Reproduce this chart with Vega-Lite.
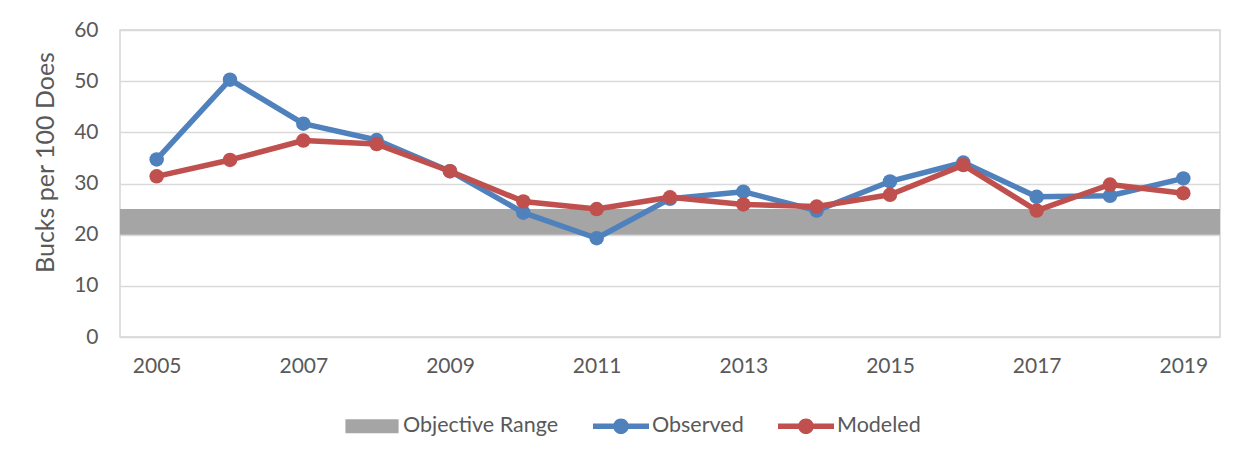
{
  "$schema": "https://vega.github.io/schema/vega-lite/v6.json",
  "width": 1100,
  "height": 307,
  "autosize": "none",
  "padding": {"left": 120, "top": 30, "right": 29, "bottom": 124},
  "background": "white",
  "config": {
    "font": "Lato",
    "view": {"stroke": "#D4D4D4", "strokeWidth": 1.5},
    "axis": {
      "labelColor": "#595959",
      "titleColor": "#595959",
      "labelFontSize": 21,
      "labelFont": "Lato",
      "titleFont": "Lato",
      "domain": false,
      "ticks": false,
      "labelFontWeight": "normal",
      "titleFontWeight": "normal"
    }
  },
  "layer": [
    {
      "data": {"values": [{"series": "Objective Range", "low": 20, "high": 25}]},
      "mark": {"type": "rect"},
      "encoding": {
        "y": {
          "field": "low",
          "type": "quantitative",
          "scale": {"domain": [0, 60], "nice": false},
          "axis": {
            "values": [0, 10, 20, 30, 40, 50, 60],
            "grid": true,
            "gridColor": "#D9D9D9",
            "gridWidth": 1.5,
            "labelPadding": 22,
            "title": "Bucks per 100 Does",
            "titleFontSize": 25,
            "titleAngle": -90,
            "titleBaseline": "middle",
            "titleAlign": "center",
            "titleX": -75,
            "titleY": 132
          }
        },
        "y2": {"field": "high"},
        "color": {
          "field": "series",
          "type": "nominal",
          "scale": {
            "domain": ["Objective Range", "Observed", "Modeled"],
            "range": ["#A5A5A5", "#4F81BD", "#C0504D"]
          },
          "legend": {
            "title": null,
            "orient": "none",
            "direction": "horizontal",
            "legendX": 224,
            "legendY": 368,
            "columnPadding": 34,
            "labelOffset": 3,
            "labelFontSize": 21.5,
            "labelColor": "#595959",
            "labelFont": "Lato",
            "symbolSize": 3136,
            "encode": {
              "symbols": {
                "update": {
                  "shape": {"signal": "datum.value === 'Objective Range' ? 'M-0.95,-0.25H0.95V0.25H-0.95Z' : 'M-1,-0.1H1V0.1H-1Z M0.28,0A0.28,0.28 0 1,1 -0.28,0A0.28,0.28 0 1,1 0.28,0Z'"},
                  "fill": {"scale": "color", "field": "value"},
                  "stroke": {"value": "transparent"},
                  "strokeWidth": {"value": 0},
                  "size": {"value": 3136},
                  "opacity": {"value": 1},
                  "fillOpacity": {"value": 1}
                }
              }
            }
          }
        }
      }
    },
    {
      "data": {
        "values": [
          {"year": 2005, "series": "Observed", "value": 34.7},
          {"year": 2006, "series": "Observed", "value": 50.3},
          {"year": 2007, "series": "Observed", "value": 41.7},
          {"year": 2008, "series": "Observed", "value": 38.5},
          {"year": 2009, "series": "Observed", "value": 32.4},
          {"year": 2010, "series": "Observed", "value": 24.3},
          {"year": 2011, "series": "Observed", "value": 19.3},
          {"year": 2012, "series": "Observed", "value": 27.0},
          {"year": 2013, "series": "Observed", "value": 28.4},
          {"year": 2014, "series": "Observed", "value": 24.7},
          {"year": 2015, "series": "Observed", "value": 30.4},
          {"year": 2016, "series": "Observed", "value": 34.1},
          {"year": 2017, "series": "Observed", "value": 27.4},
          {"year": 2018, "series": "Observed", "value": 27.6},
          {"year": 2019, "series": "Observed", "value": 31.0},
          {"year": 2005, "series": "Modeled", "value": 31.4},
          {"year": 2006, "series": "Modeled", "value": 34.6},
          {"year": 2007, "series": "Modeled", "value": 38.4},
          {"year": 2008, "series": "Modeled", "value": 37.7},
          {"year": 2009, "series": "Modeled", "value": 32.4},
          {"year": 2010, "series": "Modeled", "value": 26.5},
          {"year": 2011, "series": "Modeled", "value": 25.0},
          {"year": 2012, "series": "Modeled", "value": 27.3},
          {"year": 2013, "series": "Modeled", "value": 25.9},
          {"year": 2014, "series": "Modeled", "value": 25.5},
          {"year": 2015, "series": "Modeled", "value": 27.8},
          {"year": 2016, "series": "Modeled", "value": 33.6},
          {"year": 2017, "series": "Modeled", "value": 24.7},
          {"year": 2018, "series": "Modeled", "value": 29.8},
          {"year": 2019, "series": "Modeled", "value": 28.1}
        ]
      },
      "mark": {
        "type": "line",
        "strokeWidth": 5.5,
        "strokeJoin": "round",
        "strokeCap": "round",
        "point": {"filled": true, "size": 210, "opacity": 1}
      },
      "encoding": {
        "x": {
          "field": "year",
          "type": "ordinal",
          "sort": null,
          "axis": {
            "title": null,
            "labelAngle": 0,
            "values": [2005, 2007, 2009, 2011, 2013, 2015, 2017, 2019],
            "labelPadding": 18,
            "grid": false
          }
        },
        "y": {"field": "value", "type": "quantitative"},
        "color": {"field": "series", "type": "nominal"}
      }
    }
  ]
}
